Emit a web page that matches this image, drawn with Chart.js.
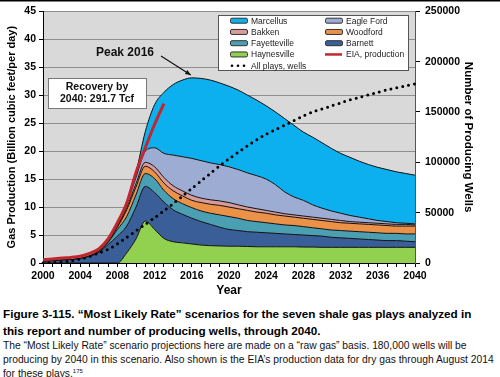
<!DOCTYPE html>
<html lang="en">
<head>
<meta charset="UTF-8">
<title>Most Likely Rate scenarios</title>
<script src="https://cdn.jsdelivr.net/npm/chart.js@4/dist/chart.umd.min.js"></script>
<style>
body { margin: 0; background: #fff; font-family: "Liberation Sans", Arial, sans-serif; color: #000; }
.wrap { position: relative; width: 500px; height: 377px; overflow: hidden; }
.box { position: absolute; left: 0; top: 0; width: 500px; height: 300px; }
.cap { position: absolute; left: 3px; top: 305px; white-space: nowrap; }
.cap h3 { margin: 0; font-size: 11.7px; line-height: 17px; font-weight: bold; }
.cap p { margin: 0; font-size: 10.3px; line-height: 14px; color: #111; }
.cap sup { font-size: 6px; vertical-align: 4px; line-height: 0; }
</style>
</head>
<body>
<div class="wrap">
	<div class="box"><canvas id="chart"></canvas></div>
	<div class="cap">
		<h3>Figure 3-115. “Most Likely Rate” scenarios for the seven shale gas plays analyzed in<br>this report and number of producing wells, through 2040.</h3>
		<p>The “Most Likely Rate” scenario projections here are made on a “raw gas” basis. 180,000 wells will be<br>producing by 2040 in this scenario. Also shown is the EIA’s production data for dry gas through August 2014<br>for these plays.<sup>175</sup></p>
	</div>
</div>
<script>
const years = [
	2000, 2001, 2002, 2003, 2004, 2005, 2006, 2007, 2008, 2009,
	2010, 2011, 2012, 2013, 2014, 2015, 2016, 2017, 2018, 2019,
	2020, 2021, 2022, 2023, 2024, 2025, 2026, 2027, 2028, 2029,
	2030, 2031, 2032, 2033, 2034, 2035, 2036, 2037, 2038, 2039, 2040
];
// production by play, bcf/d (stacked bottom to top)
const haynesville = [
	0, 0, 0, 0, 0, 0, 0, 0, 0, 1.8,
	4.3, 7.5, 6.0, 4.4, 3.8, 3.6, 3.4, 3.2, 3.1, 3.05,
	3.0, 3.0, 2.95, 2.9, 2.9, 2.9, 2.9, 2.9, 2.85, 2.85,
	2.8, 2.8, 2.8, 2.8, 2.8, 2.8, 2.8, 2.8, 2.8, 2.8, 2.8
];
const barnett = [
	0.3, 0.4, 0.5, 0.6, 0.8, 1.2, 1.9, 3.3, 4.8, 4.8,
	5.7, 6.2, 6.6, 6.5, 5.7, 5.1, 4.6, 4.2, 3.8, 3.35,
	3.0, 2.8, 2.65, 2.6, 2.5, 2.4, 2.3, 2.2, 2.15, 2.05,
	2.0, 1.8, 1.7, 1.6, 1.5, 1.4, 1.3, 1.2, 1.2, 1.1, 1.0
];
const fayetteville = [
	0, 0, 0, 0, 0, 0.05, 0.15, 0.4, 1.2, 1.7,
	2.2, 2.3, 2.5, 2.1, 2.0, 1.9, 1.9, 1.9, 2.0, 2.2,
	2.3, 2.2, 2.0, 1.9, 1.8, 1.7, 1.6, 1.6, 1.5, 1.4,
	1.3, 1.3, 1.3, 1.3, 1.3, 1.3, 1.3, 1.3, 1.3, 1.3, 1.4
];
const woodford = [
	0, 0, 0, 0, 0, 0, 0.05, 0.1, 0.4, 1.2,
	1.4, 1.3, 1.2, 1.3, 1.4, 1.4, 1.3, 1.5, 1.6, 1.7,
	1.7, 1.7, 1.8, 1.7, 1.7, 1.6, 1.6, 1.5, 1.5, 1.5,
	1.5, 1.5, 1.4, 1.4, 1.4, 1.4, 1.4, 1.4, 1.3, 1.4, 1.4
];
const bakken = [
	0, 0, 0, 0, 0, 0, 0, 0, 0.1, 0.4,
	0.6, 0.7, 0.9, 1.0, 0.9, 0.9, 0.9, 0.8, 0.8, 0.8,
	0.8, 0.7, 0.6, 0.6, 0.5, 0.5, 0.4, 0.4, 0.4, 0.4,
	0.4, 0.4, 0.4, 0.3, 0.3, 0.3, 0.3, 0.3, 0.3, 0.3, 0.2
];
const eagleFord = [
	0, 0, 0, 0, 0, 0, 0, 0, 0.1, 0.7,
	1.1, 2.0, 3.4, 4.3, 5.5, 6.1, 6.6, 6.7, 6.6, 6.5,
	6.4, 6.3, 6.1, 5.9, 5.6, 4.9, 3.9, 3.2, 2.8, 2.2,
	1.8, 1.5, 1.3, 1.1, 0.9, 0.7, 0.5, 0.4, 0.3, 0.2, 0.2
];
const marcellus = [
	0, 0, 0, 0, 0, 0, 0, 0, 0.2, 0.4,
	0.9, 3.5, 7.7, 10.9, 12.6, 13.7, 14.4, 14.7, 14.8, 14.6,
	14.4, 14.2, 13.9, 13.5, 13.1, 13.0, 13.1, 12.8, 12.2, 12.1,
	11.7, 11.2, 10.7, 10.4, 10.0, 9.7, 9.5, 9.3, 9.1, 8.9, 8.7
];
const eiaProduction = [
	0.6, 0.7, 0.9, 1.0, 1.2, 1.7, 2.5, 4.3, 7.2, 10.7,
	16.2, 20.6, 24.8, 28.5
];
const wells = [
	0, 500, 1000, 2000, 4000, 6500, 10000, 13500, 19000, 25500,
	32000, 38500, 45000, 52000, 59000, 66500, 74000, 81500, 89000, 96500,
	103500, 110000, 116500, 122500, 128000, 132500, 137000, 141500, 146000, 150000,
	153000, 156000, 159000, 162000, 164500, 167000, 169500, 172000, 174000, 176000, 178000
];
const leftTicks = { min: 0, max: 45, step: 5 };
const rightTicks = { min: 0, max: 250000, step: 50000 };
const legendOrder = ['Marcellus', 'Eagle Ford', 'Bakken', 'Woodford', 'Fayetteville', 'Barnett', 'Haynesville', 'EIA, production', 'All plays, wells'];

(() => {
	const FONT = '"Liberation Sans", Arial, sans-serif';
	const bold = (size) => ({ family: FONT, size, weight: 'bold' });
	const area = (label, data, color, fill) => ({
		label, data, fill, backgroundColor: color, borderColor: '#111', borderWidth: 1,
		pointRadius: 0, cubicInterpolationMode: 'monotone', order: 1
	});

	// grey plot area + thin rule on top of the figure
	const backdrop = {
		id: 'backdrop',
		beforeDraw(c) {
			const { ctx, chartArea: a } = c;
			ctx.save();
			ctx.fillStyle = '#d9d9d9';
			ctx.fillRect(a.left, a.top, a.right - a.left, a.bottom - a.top);
			ctx.fillStyle = '#000';
			ctx.fillRect(0, 0, c.width, 1.5);
			ctx.restore();
		}
	};

	const notes = {
		id: 'notes',
		afterDraw(c) {
			const { ctx } = c;
			const x = c.scales.x, y = c.scales.y;
			ctx.save();
			// Peak 2016 + arrow
			ctx.fillStyle = '#111';
			ctx.font = 'bold 12px ' + FONT;
			ctx.textAlign = 'center';
			ctx.textBaseline = 'middle';
			ctx.fillText('Peak 2016', 125, 53);
			const ex = x.getPixelForValue(years.indexOf(2016)) - 1, ey = y.getPixelForValue(33.6);
			const sx = 161, sy = 56;
			ctx.strokeStyle = '#111';
			ctx.lineWidth = 1.2;
			ctx.beginPath(); ctx.moveTo(sx, sy); ctx.lineTo(ex, ey); ctx.stroke();
			const ang = Math.atan2(ey - sy, ex - sx);
			ctx.beginPath();
			ctx.moveTo(ex, ey);
			ctx.lineTo(ex - 6 * Math.cos(ang - 0.4), ey - 6 * Math.sin(ang - 0.4));
			ctx.lineTo(ex - 6 * Math.cos(ang + 0.4), ey - 6 * Math.sin(ang + 0.4));
			ctx.closePath(); ctx.fill();
			// recovery box
			ctx.fillStyle = '#fff';
			ctx.strokeStyle = '#777';
			ctx.lineWidth = 1;
			ctx.fillRect(48.5, 78.5, 98, 30);
			ctx.strokeRect(48.5, 78.5, 98, 30);
			ctx.fillStyle = '#111';
			ctx.font = 'bold 10.5px ' + FONT;
			ctx.fillText('Recovery by', 97, 87.5);
			ctx.fillText('2040: 291.7 Tcf', 97, 99.5);

			// legend box
			ctx.fillStyle = '#fff';
			ctx.strokeStyle = '#555';
			ctx.fillRect(218.5, 15.5, 190, 55);
			ctx.strokeRect(218.5, 15.5, 190, 55);
			ctx.font = '8.5px ' + FONT;
			ctx.textAlign = 'left';
			legendOrder.forEach((name, i) => {
				const ds = c.data.datasets.find(d => d.label === name);
				const col = i % 2, row = Math.floor(i / 2);
				const bx = col ? 325 : 230, by = 20.7 + row * 11.25;
				if (ds.yAxisID === 'y1') {
					ctx.fillStyle = '#000';
					for (let k = 0; k < 3; k++) { ctx.beginPath(); ctx.arc(bx + 2 + k * 6, by, 1.3, 0, Math.PI * 2); ctx.fill(); }
				} else if (ds.fill === false) {
					ctx.strokeStyle = ds.borderColor; ctx.lineWidth = 2.5;
					ctx.beginPath(); ctx.moveTo(bx, by); ctx.lineTo(bx + 17, by); ctx.stroke();
				} else {
					ctx.fillStyle = ds.backgroundColor; ctx.strokeStyle = '#333'; ctx.lineWidth = 1;
					ctx.beginPath(); ctx.roundRect(bx + 0.5, by - 2.5, 17, 5, 1.5); ctx.fill(); ctx.stroke();
				}
				ctx.fillStyle = '#222';
				ctx.fillText(name, bx + 21, by + 0.5);
			});
			ctx.restore();
		}
	};

	new Chart(document.getElementById('chart'), {
		type: 'line',
		data: {
			labels: years,
			datasets: [
				area('Haynesville', haynesville, '#92d050', 'origin'),
				area('Barnett', barnett, '#3a5e97', '-1'),
				area('Fayetteville', fayetteville, '#4b9fb3', '-1'),
				area('Woodford', woodford, '#eb9148', '-1'),
				area('Bakken', bakken, '#d99a9b', '-1'),
				area('Eagle Ford', eagleFord, '#9cacd3', '-1'),
				area('Marcellus', marcellus, '#0db0ee', '-1'),
				{ label: 'EIA, production', data: eiaProduction, stack: 'eia', fill: false, borderColor: '#c1272d', borderWidth: 3,
					pointRadius: 0, tension: 0.3, order: 0 },
				{ label: 'All plays, wells', data: wells, yAxisID: 'y1', fill: false, borderColor: '#000', borderWidth: 3,
					borderDash: [0, 6], borderCapStyle: 'round', pointRadius: 0, tension: 0.3, order: 0 }
			]
		},
		options: {
			responsive: true, maintainAspectRatio: false, animation: false,
			layout: { padding: { top: 11, left: 0, right: 0, bottom: 0 } },
			plugins: { legend: { display: false }, tooltip: { enabled: false } },
			scales: {
				x: {
					grid: { drawOnChartArea: false, tickLength: 4, tickColor: '#000' },
					border: { color: '#000' },
					ticks: {
						autoSkip: false, maxRotation: 0, color: '#000', font: bold(10.5), padding: 3,
						callback(v) { const yr = this.getLabelForValue(v); return yr % 4 === 0 ? String(yr) : ''; }
					},
					title: { display: true, text: 'Year', color: '#000', font: bold(12), padding: { bottom: 2 } },
					afterFit: s => { s.height = 37; }
				},
				y: {
					stacked: true, min: leftTicks.min, max: leftTicks.max,
					grid: { color: '#8e8e8e', tickLength: 4, tickColor: '#000' },
					border: { color: '#000' },
					ticks: { stepSize: leftTicks.step, color: '#000', font: bold(10.5), padding: 3 },
					title: { display: true, text: 'Gas Production (Billion cubic feet/per day)', color: '#000', font: bold(11), padding: { top: 5 } },
					afterFit: s => { s.width = 43; }
				},
				y1: {
					position: 'right', min: rightTicks.min, max: rightTicks.max,
					grid: { drawOnChartArea: false, tickLength: 5, tickColor: '#000' },
					border: { color: '#555' },
					ticks: { stepSize: rightTicks.step, color: '#000', font: bold(10.5), padding: 5, callback: v => String(v) },
					title: { display: true, text: 'Number of Producing Wells', color: '#000', font: bold(11.5), padding: { top: 25 } },
					afterFit: s => { s.width = 85; }
				}
			}
		},
		plugins: [backdrop, notes]
	});
})();
</script>
</body>
</html>
